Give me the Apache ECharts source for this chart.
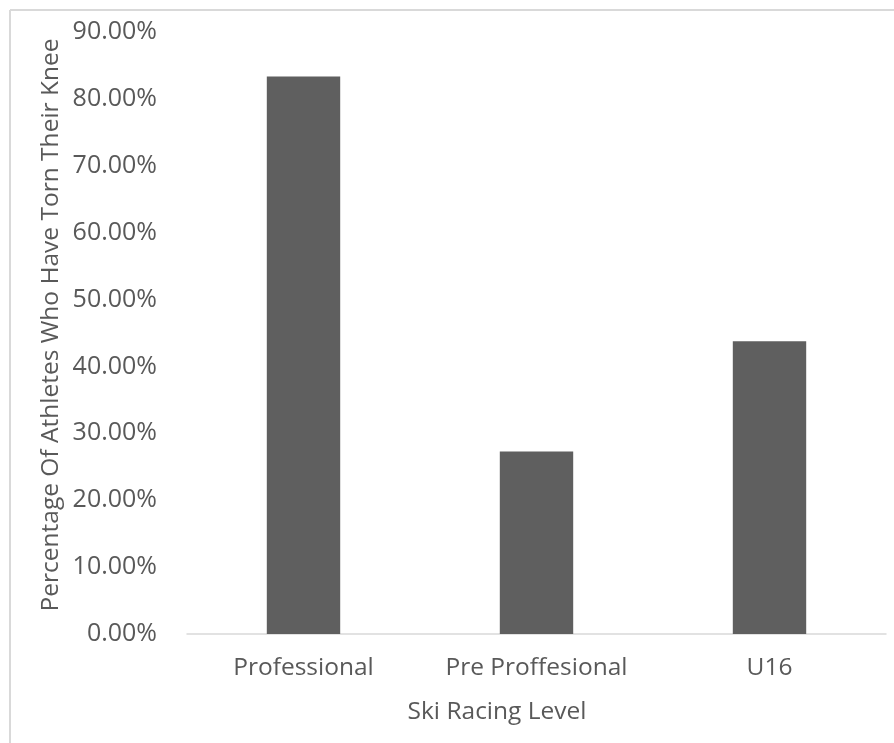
<!DOCTYPE html>
<html><head><meta charset="utf-8">
<script src="https://cdn.jsdelivr.net/npm/echarts@6/dist/echarts.min.js"></script>
<style>html,body{margin:0;padding:0;background:#fff}#c{width:894px;height:743px}</style>
</head><body><div id="c"></div>
<script>
const categories = ['Professional', 'Pre Proffesional', 'U16'];
const values = [83.33, 27.3, 43.75];
const yTicks = [0, 10, 20, 30, 40, 50, 60, 70, 80, 90];
const xTitle = 'Ski Racing Level';
const yTitle = 'Percentage Of Athletes Who Have Torn Their Knee';

const FONT = '"Open Sans", sans-serif';
const FS = 25;
const chart = echarts.init(document.getElementById('c'));
chart.setOption({
  backgroundColor: '#fff',
  animation: false,
  grid: { left: 187, right: 8, top: 32, bottom: 109 },
  xAxis: {
    type: 'category', data: categories,
    axisLine: { lineStyle: { color: '#d9d9d9', width: 1.5 } },
    axisTick: { show: false },
    axisLabel: { color: '#595959', fontSize: 24.5, fontFamily: FONT, margin: 22,
      interval: 0, hideOverlap: false }
  },
  yAxis: {
    type: 'value', min: yTicks[0], max: yTicks[yTicks.length - 1], interval: 10,
    axisLine: { show: false }, axisTick: { show: false }, splitLine: { show: false },
    axisLabel: { color: '#595959', fontSize: FS, fontFamily: FONT, margin: 30,
      formatter: v => v.toFixed(2) + '%' }
  },
  series: [{
    type: 'bar', data: values, barWidth: '31.5%',
    itemStyle: { color: '#5f5f5f' }
  }],
  graphic: [
    { type: 'line', shape: { x1: 10, y1: 10, x2: 10, y2: 743 }, style: { stroke: '#d9d9d9', lineWidth: 2 } },
    { type: 'line', shape: { x1: 10, y1: 10, x2: 894, y2: 10 }, style: { stroke: '#d9d9d9', lineWidth: 2 } },
    { type: 'text', x: 497, y: 712, style: {
        text: xTitle, x: 0, y: 0, align: 'center', verticalAlign: 'middle',
        fill: '#595959', font: '24.5px ' + FONT } },
    { type: 'text', x: 51, y: 325, rotation: Math.PI / 2, style: {
        text: yTitle, x: 0, y: 0, align: 'center', verticalAlign: 'middle',
        fill: '#595959', font: '24.5px ' + FONT } }
  ]
});
</script></body></html>
